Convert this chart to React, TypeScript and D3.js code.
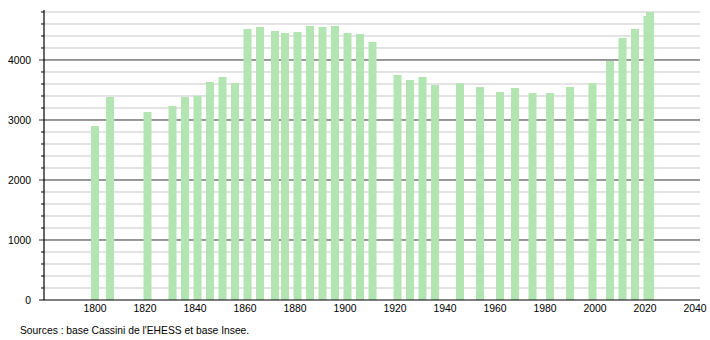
import React from "react";
import * as d3 from "d3";

const years = [1800, 1806, 1821, 1831, 1836, 1841, 1846, 1851, 1856, 1861, 1866, 1872, 1876, 1881, 1886, 1891, 1896, 1901, 1906, 1911, 1921, 1926, 1931, 1936, 1946, 1954, 1962, 1968, 1975, 1982, 1990, 1999, 2006, 2011, 2016, 2021, 2022];
const population = [2900, 3383, 3133, 3233, 3383, 3405, 3633, 3717, 3617, 4517, 4550, 4483, 4450, 4467, 4567, 4550, 4567, 4450, 4433, 4300, 3750, 3667, 3717, 3583, 3611, 3550, 3467, 3533, 3450, 3450, 3550, 3617, 3983, 4367, 4517, 4733, 4800];
const xTickLabels = [1800, 1820, 1840, 1860, 1880, 1900, 1920, 1940, 1960, 1980, 2000, 2020, 2040];
const yTickLabels = [0, 1000, 2000, 3000, 4000];
const sourceText = "Sources : base Cassini de l'EHESS et base Insee.";

export default function App() {
  const left = 44, right = 700, top = 10, bottom = 300;
  const x = d3.scaleLinear().domain([1779.6, 2042]).range([left, right]);
  const y = d3.scaleLinear().domain([0, 4833]).range([bottom, top]);
  const minor = d3.range(200, 4801, 200).filter((v) => v % 1000 !== 0);
  const barW = 8;
  const font = "'Liberation Sans', Arial, sans-serif";
  return (
    <svg width={710} height={340} style={{ position: "absolute", left: 0, top: 0, background: "#fff" }} fontFamily={font}>
      {minor.map((v) => (
        <g key={"m" + v}>
          <line x1={left} x2={right} y1={y(v)} y2={y(v)} stroke="#c8c8c8" strokeWidth={1} />
          <line x1={left - 3} x2={left} y1={y(v)} y2={y(v)} stroke="#000" strokeWidth={1} />
        </g>
      ))}
      {yTickLabels.filter((v) => v > 0).map((v) => (
        <line key={"M" + v} x1={left - 5} x2={right} y1={y(v)} y2={y(v)} stroke="#333" strokeWidth={1} />
      ))}
      {years.map((yr, i) => (
        <rect key={yr} x={x(yr) - barW / 2} y={y(population[i])} width={barW} height={bottom - y(population[i])} fill="#b2e5b2" />
      ))}
      <line x1={left} x2={left} y1={top} y2={bottom} stroke="#000" strokeWidth={1.2} />
      <line x1={left - 5} x2={right} y1={bottom} y2={bottom} stroke="#000" strokeWidth={1.2} />
      {yTickLabels.map((v) => (
        <text key={"yl" + v} x={31} y={y(v) + 4} textAnchor="end" fontSize={10.4} fill="#000">{v}</text>
      ))}
      {xTickLabels.map((v) => (
        <text key={"xl" + v} x={x(v)} y={312} textAnchor="middle" fontSize={10.4} fill="#000">{v}</text>
      ))}
      <text x={20} y={334} fontSize={10.3} fill="#000">{sourceText}</text>
    </svg>
  );
}
